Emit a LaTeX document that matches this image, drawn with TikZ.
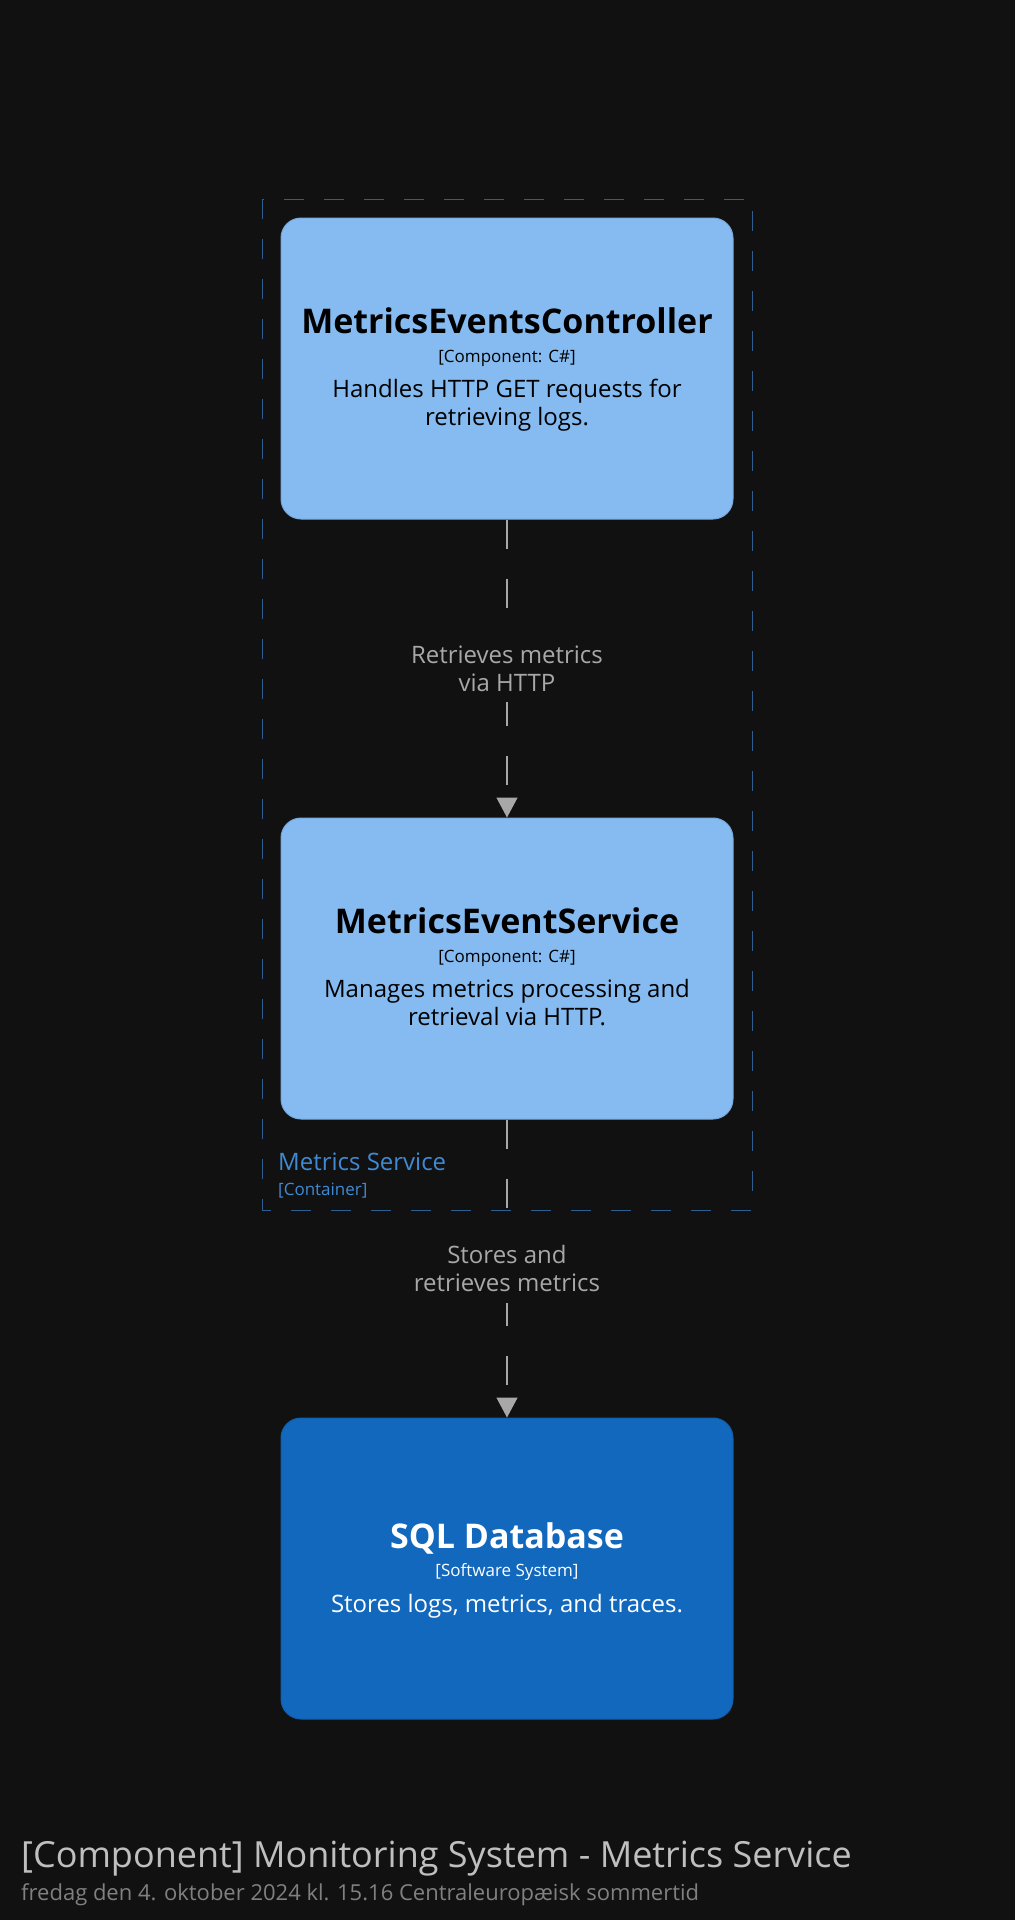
\documentclass[tikz,border=0pt]{standalone}
\usepackage{fontspec}
\setmainfont{Open Sans}
\usetikzlibrary{arrows.meta,%
		positioning}
\definecolor{bgcol}{HTML}{111111}
\definecolor{compfill}{HTML}{85BBF0}
\definecolor{compline}{HTML}{78A9DC}
\definecolor{sysfill}{HTML}{1168BD}
\definecolor{sysline}{HTML}{0F5FAD}
\definecolor{bndline}{HTML}{2E5E90}
\definecolor{bndtext}{HTML}{3F8AD3}
\definecolor{relcol}{HTML}{A8A8A8}
\tikzset{
  compbox/.style={draw=compline,fill=compfill,line width=1pt,rounded corners=20pt,minimum width=452pt,minimum height=301pt,inner sep=0pt},
  sysbox/.style={compbox,draw=sysline,fill=sysfill},
  boxname/.style={anchor=base,inner sep=0pt,font=\fontsize{34}{40}\selectfont\bfseries},
  boxkind/.style={anchor=base,inner sep=0pt,font=\fontsize{17}{20}\selectfont},
  boxdesc/.style={anchor=base,inner sep=0pt,align=center,font=\fontsize{24}{28}\selectfont},
  rel/.style={draw=relcol,line width=1.5pt,dash pattern=on 29pt off 30pt,-{Triangle[width=21pt,length=20pt,fill=relcol]}},
  rellbl/.style={fill=bgcol,text=relcol,align=center,inner xsep=7pt,inner ysep=11pt,font=\fontsize{24}{28}\selectfont}
}
\begin{document}
\begin{tikzpicture}[x=1pt,y=-1pt]
  \fill[bgcol] (0,0) rectangle (1015,1920);%sfondo
  \useasboundingbox (0,0) rectangle (1015,1920);

  \draw[bndline,line width=1pt,dash pattern=on 20pt off 20pt] (262,199) rectangle (752,1210);%container boundary
  \node[anchor=base west,inner sep=0pt,text=bndtext,font=\fontsize{24}{28}\selectfont] (bndname) at (278,1170) {Metrics Service};
  \node[anchor=base west,inner sep=0pt,text=bndtext,font=\fontsize{17}{20}\selectfont] (bndkind) at (278,1195) {[Container]};

  \node[compbox] (ctrl) at (507,368.5) {};%the controller
  \node[boxname] (ctrlname) at (507,333) {MetricsEventsController};
  \node[boxkind] (ctrlkind) at (507,362) {[Component: C\#]};
  \node[boxdesc] (ctrldesc) at (507,425) {Handles HTTP GET requests for\\retrieving logs.};%base = last line

  \node[compbox] (svc) at (507,968.5) {};%the service
  \node[boxname] (svcname) at (507,933) {MetricsEventService};
  \node[boxkind] (svckind) at (507,962) {[Component: C\#]};
  \node[boxdesc] (svcdesc) at (507,1025) {Manages metrics processing and\\retrieval via HTTP.};

  \node[sysbox] (db) at (507,1568.5) {};%the database
  \node[boxname,text=white] (dbname) at (507,1548) {SQL Database};
  \node[boxkind,text=white] (dbkind) at (507,1576) {[Software System]};
  \node[boxdesc,text=white] (dbdesc) at (507,1612) {Stores logs, metrics, and traces.};

  \draw[rel] (ctrl) -- node[rellbl] (rel1) {Retrieves metrics\\via HTTP} (svc);
  \draw[rel] (svc) -- node[rellbl] (rel2) {Stores and\\retrieves metrics} (db);

  \node[anchor=base west,inner sep=0pt,text=black!25,font=\fontsize{36}{42}\selectfont] (title) at (21,1867) {[Component] Monitoring System - Metrics Service};
  \node[anchor=base west,inner sep=0pt,text=black!50,font=\fontsize{22}{26}\selectfont] (date) at (21,1900) {fredag den 4. oktober 2024 kl. 15.16 Centraleuropæisk sommertid};
\end{tikzpicture}
\end{document}
